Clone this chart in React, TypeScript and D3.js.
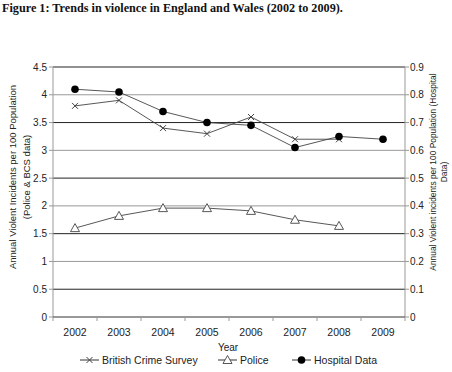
import { scaleBand, scaleLinear, line } from "d3";

const years = ["2002", "2003", "2004", "2005", "2006", "2007", "2008", "2009"];
const bcs = [3.8, 3.9, 3.4, 3.3, 3.6, 3.2, 3.2, null];
const police = [1.6, 1.82, 1.96, 1.96, 1.91, 1.75, 1.64, null];
const hospital = [0.82, 0.81, 0.74, 0.7, 0.69, 0.61, 0.65, 0.64];
const leftTicks = [0, 0.5, 1, 1.5, 2, 2.5, 3, 3.5, 4, 4.5];
const rightTicks = [0, 0.1, 0.2, 0.3, 0.4, 0.5, 0.6, 0.7, 0.8, 0.9];

const width = 452;
const height = 372;
const plot = { left: 53, right: 405, top: 67, bottom: 317 };
const font = "'Liberation Sans', Arial, sans-serif";

export default function App() {
  const x = scaleBand<string>().domain(years).range([plot.left, plot.right]);
  const yLeft = scaleLinear().domain([0, 4.5]).range([plot.bottom, plot.top]);
  const yRight = scaleLinear().domain([0, 0.9]).range([plot.bottom, plot.top]);
  const cx = (y: string) => (x(y) ?? 0) + x.bandwidth() / 2;

  type Pt = { year: string; v: number | null };
  const mk = (vals: (number | null)[]): Pt[] => years.map((year, i) => ({ year, v: vals[i] }));
  const leftLine = line<Pt>()
    .defined((d) => d.v != null)
    .x((d) => cx(d.year))
    .y((d) => yLeft(d.v as number));
  const rightLine = line<Pt>()
    .defined((d) => d.v != null)
    .x((d) => cx(d.year))
    .y((d) => yRight(d.v as number));

  const bcsPts = mk(bcs);
  const policePts = mk(police);
  const hospPts = mk(hospital);

  const cross = (px: number, py: number, k: string) => (
    <path key={k} d={`M${px - 3},${py - 3}L${px + 3},${py + 3}M${px - 3},${py + 3}L${px + 3},${py - 3}`} stroke="#444" strokeWidth={1} />
  );
  const tri = (px: number, py: number, k: string) => (
    <path key={k} d={`M${px},${py - 4.5}L${px + 4.5},${py + 3.5}L${px - 4.5},${py + 3.5}Z`} fill="white" stroke="#444" strokeWidth={0.9} />
  );
  const dot = (px: number, py: number, k: string) => <circle key={k} cx={px} cy={py} r={3.8} fill="#000" />;

  const leftMid = 177;
  const rightMid = 172;

  return (
    <svg width={width} height={height} style={{ position: "absolute", left: 0, top: 0, background: "white" }}>
      <text x={2} y={12} fontFamily="'Liberation Serif', 'Times New Roman', serif" fontWeight="bold" fontSize={12.2} fill="#111">
        Figure 1: Trends in violence in England and Wales (2002 to 2009).
      </text>

      {leftTicks.slice(1).map((t, i) => (
        <line key={t} x1={plot.left} x2={plot.right} y1={yLeft(t)} y2={yLeft(t)} stroke={i % 2 === 0 ? "#222" : "#999"} strokeWidth={1} />
      ))}

      {/* axes */}
      <line x1={plot.left} x2={plot.left} y1={plot.top} y2={plot.bottom} stroke="#999" />
      <line x1={plot.right} x2={plot.right} y1={plot.top} y2={plot.bottom} stroke="#999" />
      <line x1={plot.left} x2={plot.right} y1={plot.bottom} y2={plot.bottom} stroke="#333" />
      {leftTicks.map((t) => (
        <g key={t}>
          <line x1={plot.left - 4} x2={plot.left} y1={yLeft(t)} y2={yLeft(t)} stroke="#999" />
          <text x={plot.left - 6} y={yLeft(t) + 3.5} textAnchor="end" fontFamily={font} fontSize={10} fill="#222">
            {t}
          </text>
        </g>
      ))}
      {rightTicks.map((t) => (
        <g key={t}>
          <line x1={plot.right} x2={plot.right + 4} y1={yRight(t)} y2={yRight(t)} stroke="#999" />
          <text x={plot.right + 5} y={yRight(t) + 3.5} fontFamily={font} fontSize={10} fill="#222">
            {t}
          </text>
        </g>
      ))}
      {years.map((y) => (
        <g key={y}>
          <line x1={x(y) ?? 0} x2={x(y) ?? 0} y1={plot.bottom} y2={plot.bottom + 4} stroke="#999" />
          <text x={cx(y)} y={plot.bottom + 19} textAnchor="middle" fontFamily={font} fontSize={10.5} fill="#222">
            {y}
          </text>
        </g>
      ))}
      <line x1={plot.right} x2={plot.right} y1={plot.bottom} y2={plot.bottom + 4} stroke="#999" />

      {/* series */}
      <path d={leftLine(bcsPts) ?? ""} fill="none" stroke="#444" strokeWidth={0.9} />
      <path d={leftLine(policePts) ?? ""} fill="none" stroke="#444" strokeWidth={0.9} />
      <path d={rightLine(hospPts) ?? ""} fill="none" stroke="#444" strokeWidth={0.9} />
      {bcsPts.filter((d) => d.v != null).map((d) => cross(cx(d.year), yLeft(d.v as number), "b" + d.year))}
      {policePts.filter((d) => d.v != null).map((d) => tri(cx(d.year), yLeft(d.v as number), "p" + d.year))}
      {hospPts.map((d) => dot(cx(d.year), yRight(d.v as number), "h" + d.year))}

      {/* axis titles */}
      <text transform={`translate(16,${leftMid}) rotate(-90)`} textAnchor="middle" fontFamily={font} fontSize={9.5} fill="#222">
        Annual Violent Incidents per 100 Population
      </text>
      <text transform={`translate(30,${leftMid}) rotate(-90)`} textAnchor="middle" fontFamily={font} fontSize={9.5} fill="#222">
        (Police &amp; BCS data)
      </text>
      <text transform={`translate(436,${rightMid}) rotate(-90)`} textAnchor="middle" fontFamily={font} fontSize={8.4} fill="#222">
        Annual Violent incidents per 100 Population (Hospital
      </text>
      <text transform={`translate(447,${rightMid}) rotate(-90)`} textAnchor="middle" fontFamily={font} fontSize={8.4} fill="#222">
        Data)
      </text>
      <text x={228} y={351} textAnchor="middle" fontFamily={font} fontSize={10} fill="#222">
        Year
      </text>

      {/* legend */}
      <g fontFamily={font} fontSize={10.5} fill="#222">
        <line x1={80} x2={99} y1={360} y2={360} stroke="#333" />
        {cross(89.5, 360, "lb")}
        <text x={102} y={364}>British Crime Survey</text>
        <line x1={218} x2={237} y1={360} y2={360} stroke="#333" />
        {tri(227.5, 360, "lp")}
        <text x={240} y={364}>Police</text>
        <line x1={292} x2={311} y1={360} y2={360} stroke="#333" />
        {dot(301.5, 360, "lh")}
        <text x={314} y={364}>Hospital Data</text>
      </g>
    </svg>
  );
}
